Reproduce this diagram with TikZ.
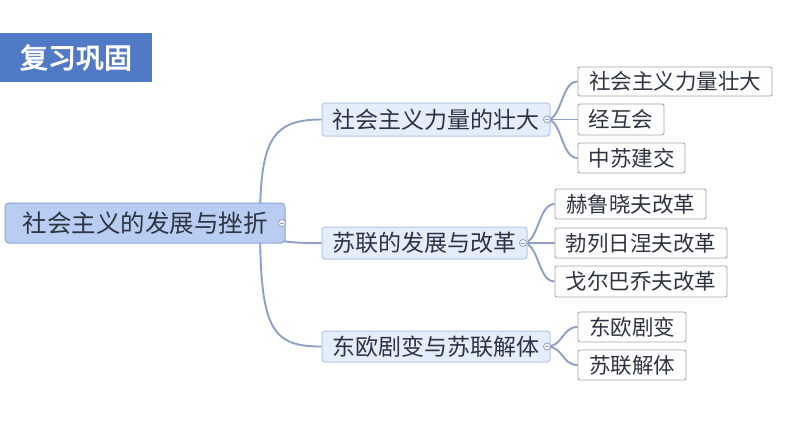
\documentclass[tikz,border=0pt]{standalone}
\usepackage{fontspec}
\usetikzlibrary{backgrounds}
\newfontfamily\cjk{Noto Sans CJK SC}
\newfontfamily\cjkbold[FakeBold=3]{Noto Sans CJK SC}
\definecolor{titleblue}{HTML}{5079C6}
\definecolor{rootfill}{HTML}{B9CDF3}
\definecolor{rootdraw}{HTML}{8CA5D8}
\definecolor{midfill}{HTML}{E4EDFA}
\definecolor{middraw}{HTML}{B3C6E8}
\definecolor{conn}{HTML}{8E9FC6}
\definecolor{leafdraw}{HTML}{A6A6A6}
\definecolor{txt}{HTML}{2E3440}
\tikzset{
  titlebox/.style={fill=titleblue, text=white, inner sep=0pt, font=\cjkbold\fontsize{28}{30}\selectfont},
  rootbox/.style={fill=rootfill, draw=rootdraw, line width=1pt, rounded corners=4pt, inner sep=0pt, text=txt, font=\cjk\fontsize{24.5}{28}\selectfont},
  midbox/.style={fill=midfill, draw=middraw, line width=1pt, rounded corners=3pt, inner sep=0pt, text=txt, font=\cjk\fontsize{23}{26}\selectfont},
  leafbox/.style={fill=white, draw=leafdraw, line width=0.9pt, rounded corners=2pt, inner sep=0pt, text=txt, font=\cjk\fontsize{21.5}{24}\selectfont},
  link/.style={draw=conn, line width=1.9pt},
  knob/.style={circle, draw=conn, fill=white, line width=0.8pt, minimum size=7pt, inner sep=0pt},
  knobbar/.style={draw=conn, line width=0.8pt},
}
\begin{document}
\begin{tikzpicture}[x=1pt,y=-1pt]
\useasboundingbox (0,0) rectangle (794,447);

% junction coordinates
\coordinate (rj) at (260,223);
\coordinate (j1) at (547,119.5);
\coordinate (j2) at (523,243);
\coordinate (j3) at (547,346.5);

\node[titlebox, minimum width=152pt, minimum height=49pt] (title) at (76,57.5) {复习巩固};

\node[rootbox, minimum width=280pt, minimum height=40pt] (root) at (145,223) {社会主义的发展与挫折};

\node[midbox, minimum width=228pt, minimum height=33pt] (l1) at (436,119.5) {社会主义力量的壮大};
\node[midbox, minimum width=205pt, minimum height=32pt] (l2) at (424.5,243) {苏联的发展与改革};
\node[midbox, minimum width=228pt, minimum height=31pt] (l3) at (436,346.5) {东欧剧变与苏联解体};

\node[leafbox, minimum width=194pt, minimum height=29pt] (a1) at (675,81.5) {社会主义力量壮大};
\node[leafbox, minimum width=86pt, minimum height=31pt] (a2) at (621,119.5) {经互会};
\node[leafbox, minimum width=107pt, minimum height=30pt] (a3) at (631.5,158) {中苏建交};

\node[leafbox, minimum width=151pt, minimum height=30pt] (b1) at (630.5,204) {赫鲁晓夫改革};
\node[leafbox, minimum width=172pt, minimum height=30pt] (b2) at (641,243) {勃列日涅夫改革};
\node[leafbox, minimum width=172pt, minimum height=31pt] (b3) at (641,281.5) {戈尔巴乔夫改革};

\node[leafbox, minimum width=108pt, minimum height=30pt] (c1) at (632,327) {东欧剧变};
\node[leafbox, minimum width=108pt, minimum height=30pt] (c2) at (632,365) {苏联解体};

\begin{scope}[on background layer]
\fill[white] (0,0) rectangle (794,447);
% connectors root -> level 1
\draw[link] (rj) .. controls (260,140) and (272,119.5) .. (l1.west);
\draw[link] (rj) .. controls (262,243) and (292,243) .. (l2.west);
\draw[link] (rj) .. controls (260,330) and (272,346.5) .. (l3.west);
% connectors level 1 -> leaves
\draw[link] (j1) .. controls (562,119.5) and (561,81.5) .. (a1.west);
\draw[link] (j1) -- (a2.west);
\draw[link] (j1) .. controls (562,119.5) and (561,158) .. (a3.west);
\draw[link] (j2) .. controls (539,243) and (538,204) .. (b1.west);
\draw[link] (j2) -- (b2.west);
\draw[link] (j2) .. controls (539,243) and (538,281.5) .. (b3.west);
\draw[link] (j3) .. controls (563,346.5) and (562,327) .. (c1.west);
\draw[link] (j3) .. controls (563,346.5) and (562,365) .. (c2.west);
\end{scope}

% collapse knobs
\node[knob] (k0) at (282,223) {};
\draw[knobbar] ([xshift=-2pt]k0.center) -- ([xshift=2pt]k0.center);
\node[knob] (k1) at (j1) {};
\draw[knobbar] ([xshift=-2pt]k1.center) -- ([xshift=2pt]k1.center);
\node[knob] (k2) at (j2) {};
\draw[knobbar] ([xshift=-2pt]k2.center) -- ([xshift=2pt]k2.center);
\node[knob] (k3) at (j3) {};
\draw[knobbar] ([xshift=-2pt]k3.center) -- ([xshift=2pt]k3.center);
\end{tikzpicture}
\end{document}
